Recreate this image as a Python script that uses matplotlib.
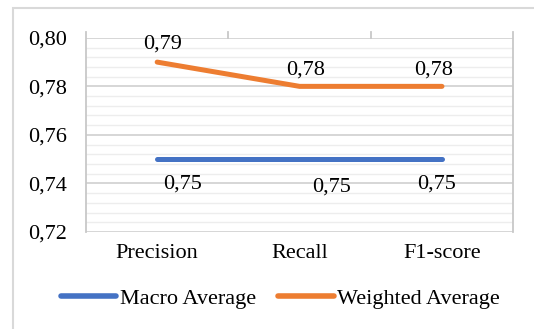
import matplotlib
matplotlib.use("Agg")
import matplotlib.pyplot as plt
from matplotlib.patches import Rectangle
from matplotlib.lines import Line2D
from matplotlib.ticker import FuncFormatter, MultipleLocator

# Data
categories = ["Precision", "Recall", "F1-score"]
macro_avg = [0.75, 0.75, 0.75]
weighted_avg = [0.79, 0.78, 0.78]

# Label offsets in points (manual placement as in the original)
macro_offsets = [(18, -18), (23, -20), (-4, -18)]
weighted_offsets = [(4, 13), (4, 12), (-6, 12)]

plt.rcParams["font.family"] = ["Liberation Serif", "DejaVu Serif"]
plt.rcParams["font.size"] = 16

fig = plt.figure(figsize=(5.34, 3.29), dpi=100)
ax = fig.add_axes([0.161, 0.295, 0.8, 0.59])

# Outer chart border (only left and top visible in frame)
fig.patches.append(Rectangle((13 / 534, -0.1), 1.2, 0.1 + 1 - 8 / 329,
                             transform=fig.transFigure, fill=False,
                             edgecolor="#D9D9D9", linewidth=1.5))

x = list(range(len(categories)))
ax.plot(x, macro_avg, color="#4472C4", linewidth=3.6, solid_capstyle="round",
        label="Macro Average", zorder=3)
ax.plot(x, weighted_avg, color="#ED7D31", linewidth=3.6, solid_capstyle="round",
        label="Weighted Average", zorder=3)

for xi, v, off in zip(x, macro_avg, macro_offsets):
    ax.annotate(f"{v:.2f}".replace(".", ","), (xi, v), xytext=off,
                textcoords="offset points", ha="center", va="center")
for xi, v, off in zip(x, weighted_avg, weighted_offsets):
    ax.annotate(f"{v:.2f}".replace(".", ","), (xi, v), xytext=off,
                textcoords="offset points", ha="center", va="center")

ax.set_xlim(-0.5, 2.5)
ax.set_ylim(0.72, 0.80)
ax.yaxis.set_major_locator(MultipleLocator(0.02))
ax.yaxis.set_minor_locator(MultipleLocator(0.004))
ax.yaxis.set_major_formatter(FuncFormatter(lambda v, p: f"{v:.2f}".replace(".", ",")))
ax.grid(axis="y", which="major", color="#D0D0D0", linewidth=1.2)
ax.grid(axis="y", which="minor", color="#EDEDED", linewidth=1.0)
ax.set_axisbelow(True)

ax.set_xticks(x)
ax.set_xticklabels(categories)
ax.tick_params(axis="x", length=0, pad=9)
ax.tick_params(axis="y", which="both", length=0, pad=14)

for s in ["top", "bottom", "left", "right"]:
    ax.spines[s].set_visible(False)

# Vertical axis lines and category boundary ticks extending above the plot
for xb in [-0.5, 0.5, 1.5, 2.5]:
    bottom = 0.0 if xb in (-0.5, 2.5) else 1.0
    ax.add_line(Line2D([xb, xb], [bottom, 1.03], transform=ax.get_xaxis_transform(),
                       color="#C8C8C8", linewidth=1.3, clip_on=False, zorder=2))

leg = fig.legend(loc="lower center", bbox_to_anchor=(0.525, 0.0), ncol=2, frameon=False,
                 handlelength=2.5, handletextpad=0.15, columnspacing=1.0, fontsize=16)
for h in leg.get_lines():
    h.set_linewidth(4)

fig.savefig("out.png", dpi=100)
